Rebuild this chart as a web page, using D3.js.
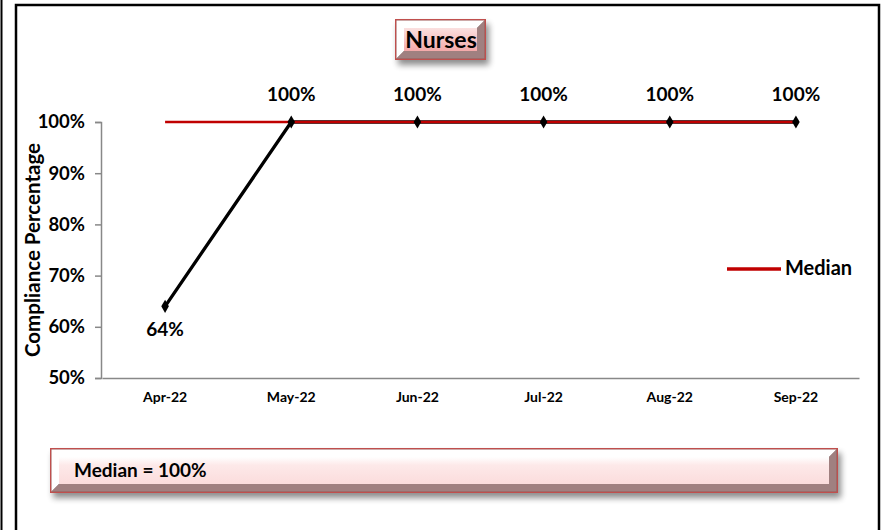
<!DOCTYPE html>
<html>
<head>
<meta charset="utf-8">
<script src="https://cdn.jsdelivr.net/npm/d3@7"></script>
<style>
  body { margin: 0; background: #fff; }
  svg { display: block; font-family: Lato, "Open Sans", sans-serif; }
</style>
</head>
<body>
<svg id="chart" width="883" height="530"></svg>
<script>
const months = ["Apr-22", "May-22", "Jun-22", "Jul-22", "Aug-22", "Sep-22"];
const compliance = [64, 100, 100, 100, 100, 100];
const median = [100, 100, 100, 100, 100, 100];
const yTicks = [50, 60, 70, 80, 90, 100];

const svg = d3.select("#chart");
const defs = svg.append("defs");

// outer frame lines
svg.append("line").attr("x1", 1.5).attr("x2", 1.5).attr("y1", 0).attr("y2", 530)
  .attr("stroke", "#000").attr("stroke-width", 2);
svg.append("path").attr("d", "M16,530 V5 H879 V530")
  .attr("fill", "none").attr("stroke", "#000").attr("stroke-width", 2.5);

// bevel gradients + shadow
const grad = defs.append("linearGradient").attr("id", "pinkFill")
  .attr("x1", 0).attr("x2", 0).attr("y1", 0).attr("y2", 1);
grad.append("stop").attr("offset", "0%").attr("stop-color", "#fff");
grad.append("stop").attr("offset", "30%").attr("stop-color", "#fde9e9");
grad.append("stop").attr("offset", "100%").attr("stop-color", "#fbdcdc");

const titleGrad = defs.append("linearGradient").attr("id", "titleFill")
  .attr("x1", 0).attr("x2", 0).attr("y1", 0).attr("y2", 1);
titleGrad.append("stop").attr("offset", "0%").attr("stop-color", "#fbe0e0");
titleGrad.append("stop").attr("offset", "100%").attr("stop-color", "#f4a9a9");

const shadow = defs.append("filter").attr("id", "shadow")
  .attr("x", "-10%").attr("y", "-30%").attr("width", "130%").attr("height", "190%");
shadow.append("feGaussianBlur").attr("in", "SourceAlpha").attr("stdDeviation", 3);
shadow.append("feOffset").attr("dx", 3).attr("dy", 5).attr("result", "b");
shadow.append("feComponentTransfer").append("feFuncA").attr("type", "linear").attr("slope", 0.45);
const merge = shadow.append("feMerge");
merge.append("feMergeNode");
merge.append("feMergeNode").attr("in", "SourceGraphic");

function bevelBox(x, y, w, h, fill) {
  const g = svg.append("g").attr("filter", "url(#shadow)");
  g.append("rect").attr("x", x).attr("y", y).attr("width", w).attr("height", h)
    .attr("fill", "#c0504d");
  g.append("rect").attr("x", x + 1.5).attr("y", y + 1.5).attr("width", w - 3).attr("height", h - 3)
    .attr("fill", "#7a5a5a");
  // top/left highlight bevel
  g.append("path")
    .attr("d", `M${x + 1.5},${y + 1.5} H${x + w - 1.5} L${x + w - 9},${y + 9} H${x + 9} V${y + h - 9} L${x + 1.5},${y + h - 1.5} Z`)
    .attr("fill", "#fff");
  g.append("path")
    .attr("d", `M${x + w - 1.5},${y + 1.5} V${y + h - 1.5} H${x + 1.5} L${x + 9},${y + h - 9} H${x + w - 9} V${y + 9} Z`)
    .attr("fill", "#a08080");
  g.append("rect").attr("x", x + 9).attr("y", y + 9).attr("width", w - 18).attr("height", h - 18)
    .attr("fill", fill);
  return g;
}

// title
bevelBox(395, 19, 91, 41, "url(#titleFill)");
svg.append("text").attr("x", 441).attr("y", 48).attr("text-anchor", "middle")
  .attr("font-size", 23).attr("font-weight", "bold").attr("fill", "#000").text("Nurses");

// scales
const x = d3.scaleBand().domain(months).range([102, 859]);
const y = d3.scaleLinear().domain([50, 100]).range([378, 122]);

// axes
const yAxis = svg.append("g").attr("transform", "translate(101,0)")
  .call(d3.axisLeft(y).tickValues(yTicks).tickFormat(d => d + "%").tickSize(6).tickPadding(10));
yAxis.select(".domain").attr("stroke", "#888").attr("stroke-width", 1.5);
yAxis.selectAll(".tick line").attr("stroke", "#888").attr("stroke-width", 1.5);
yAxis.selectAll("text").attr("font-size", 18.5).attr("font-weight", "bold")
  .attr("fill", "#000").attr("font-family", "Lato, sans-serif");

const xAxis = svg.append("g").attr("transform", "translate(0,378)")
  .call(d3.axisBottom(x).tickSize(0).tickPadding(14));
xAxis.select(".domain").attr("stroke", "#888").attr("stroke-width", 1.5);
xAxis.selectAll("text").attr("font-size", 14).attr("font-weight", "bold")
  .attr("fill", "#000").attr("font-family", "Lato, sans-serif");

svg.append("text").attr("transform", "translate(40,250) rotate(-90)")
  .attr("text-anchor", "middle").attr("font-size", 20.5).attr("font-weight", "bold")
  .text("Compliance Percentage");

const cx = d => x(d) + x.bandwidth() / 2;

// compliance line
svg.append("path")
  .attr("d", d3.line().x((d, i) => cx(months[i])).y(d => y(d))(compliance))
  .attr("fill", "none").attr("stroke", "#000").attr("stroke-width", 3.3);

// median line drawn over the data line
svg.append("path")
  .attr("d", d3.line().x((d, i) => cx(months[i])).y(d => y(d))(median))
  .attr("fill", "none").attr("stroke", "#c00000").attr("stroke-width", 2.6);

svg.selectAll(".pt").data(compliance).enter().append("path")
  .attr("class", "pt")
  .attr("transform", (d, i) => `translate(${cx(months[i])},${y(d)})`)
  .attr("d", d3.symbol().type(d3.symbolDiamond).size(50))
  .attr("fill", "#000");

svg.selectAll(".lbl").data(compliance).enter().append("text")
  .attr("class", "lbl")
  .attr("x", (d, i) => cx(months[i]))
  .attr("y", d => d >= 100 ? y(d) - 21 : y(d) + 30)
  .attr("text-anchor", "middle").attr("font-size", 19).attr("font-weight", "bold")
  .text(d => d + "%");

// legend
svg.append("line").attr("x1", 727).attr("x2", 781).attr("y1", 269).attr("y2", 269)
  .attr("stroke", "#c00000").attr("stroke-width", 3.5);
svg.append("text").attr("x", 785).attr("y", 275).attr("font-size", 20)
  .attr("font-weight", "bold").text("Median");

// bottom summary box
bevelBox(50, 448, 788, 45, "url(#pinkFill)");
svg.append("text").attr("x", 74).attr("y", 477).attr("font-size", 19)
  .attr("font-weight", "bold").text("Median = " + median[0] + "%");
</script>
</body>
</html>
